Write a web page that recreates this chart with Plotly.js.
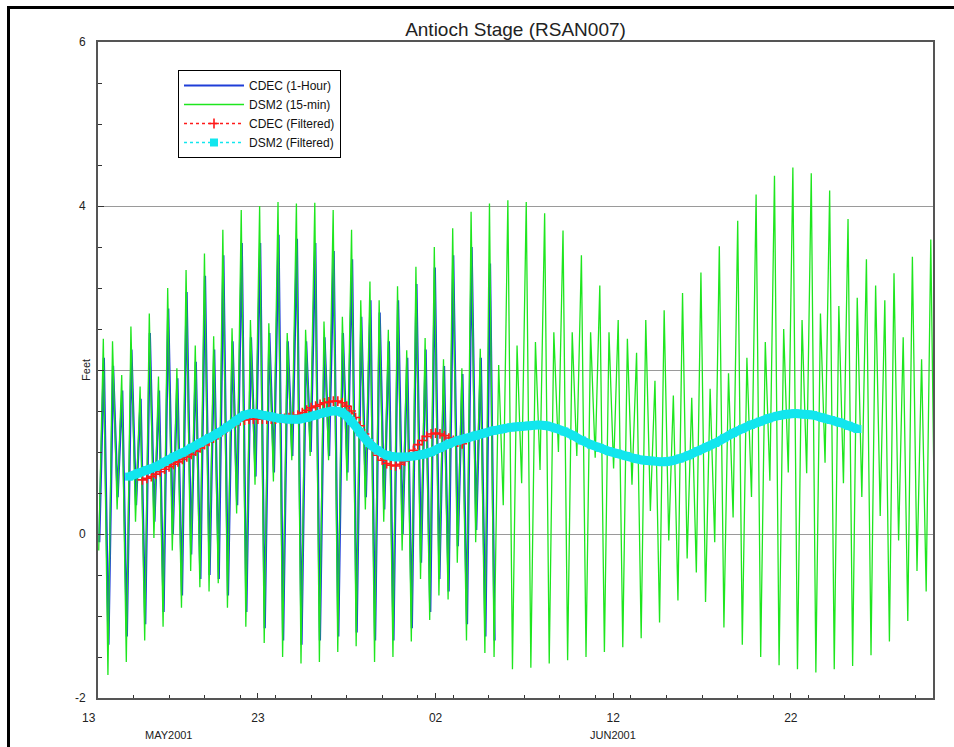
<!DOCTYPE html>
<html>
<head>
<meta charset="utf-8">
<script src="https://cdn.plot.ly/plotly-3.0.1.min.js"></script>
<style>
  html, body { margin: 0; padding: 0; background: #fff; }
  #chart { width: 954px; height: 747px; }
  #frame { position: absolute; left: 7px; top: 6px; width: 960px; height: 760px;
           border-top: 3px solid #000; border-left: 3px solid #000; pointer-events: none; }
</style>
</head>
<body>
<div id="chart"></div>
<div id="frame"></div>
<script>
// ---------------- data (feet) ----------------
// Axis / timing
const startDate = '2001-05-14';
const endDate = '2001-06-30';
const firstHighDay = 0.30;      // days after startDate of first high water
const tideStep = 0.5175;        // days between successive high waters
const cdecShift = 0.03;         // CDEC hourly lag (days)

// DSM2 (15-min): successive high waters
const dsm2Highs = [2.38,2.35,1.94,2.53,1.80,2.69,1.92,3.00,2.02,3.22,
  2.30,3.42,2.41,3.71,2.51,3.95,2.61,4.00,2.57,4.05,
  2.45,4.03,2.49,4.04,2.59,3.95,2.65,3.71,2.85,3.08,
  2.85,2.49,3.02,2.24,3.26,2.39,3.50,2.13,3.73,2.02,
  3.93,2.26,4.03,2.06,4.07,2.30,4.05,2.34,3.91,2.46,
  3.70,2.46,3.40,2.46,3.03,2.46,2.61,2.38,2.21,2.61,
  1.87,2.73,1.69,2.94,1.66,3.19,1.77,3.51,1.96,3.82,
  2.15,4.14,2.34,4.37,2.50,4.47,2.61,4.40,2.69,4.19,
  2.78,3.84,2.88,3.35,3.03,2.85,3.18,2.40,3.38,2.13,3.59];
// DSM2 (15-min): successive low waters (first one precedes first high)
const dsm2Lows = [-0.20,
  -1.72,0.30,-1.56,0.15,-1.30,-0.05,-1.13,-0.20,-0.90,-0.45,
  -0.65,-0.70,-0.60,-0.90,0.25,-1.13,0.60,-1.33,0.64,-1.50,
  0.90,-1.58,0.95,-1.56,0.90,-1.44,0.65,-1.37,0.30,-1.56,
  0.15,-1.50,-0.20,-1.31,-0.55,-1.05,-0.75,-0.80,-0.35,-1.30,
  -0.10,-1.45,-1.50,0.35,-1.65,0.62,-1.63,0.78,-1.58,1.00,
  -1.54,0.95,-1.50,0.93,-1.44,0.80,-1.38,0.60,-1.27,0.28,
  -1.08,-0.08,-0.81,-0.30,-0.47,-0.83,-0.10,-1.14,0.20,-1.35,
  0.45,-1.50,0.65,-1.60,0.75,-1.65,0.74,-1.69,0.87,-1.65,
  0.62,-1.61,0.45,-1.48,0.22,-1.31,-0.08,-1.06,-0.45,-0.70,-0.75];

// CDEC (1-Hour): successive high / low waters
const cdecHighs = [2.15,2.05,1.75,2.25,1.65,2.45,1.75,2.75,1.90,2.95,
  2.10,3.15,2.25,3.40,2.35,3.55,2.40,3.55,2.45,3.65,
  2.35,3.60,2.35,3.55,2.40,3.45,2.45,3.35,2.65,2.85,
  2.70,2.35,2.85,2.15,3.05,2.25,3.25,2.05,3.40,1.95,
  3.50,2.15,3.30];
const cdecLows = [-0.10,
  -1.35,0.45,-1.25,0.35,-1.10,0.15,-0.95,0.00,-0.75,-0.25,
  -0.55,-0.50,-0.55,-0.75,0.35,-0.95,0.70,-1.15,0.75,-1.30,
  0.95,-1.35,1.00,-1.30,0.95,-1.25,0.75,-1.20,0.45,-1.30,
  0.30,-1.30,0.00,-1.15,-0.35,-0.95,-0.55,-0.70,-0.15,-1.10,
  0.05,-1.25,-1.30];

// CDEC (Filtered): every 6 hours from day 2.5
const cdecFiltStartDay = 2.5, cdecFiltStep = 0.25;
const cdecFiltered = [0.66,0.68,0.70,0.73,0.76,0.79,0.82,0.85,0.88,0.91,
  0.94,0.97,1.01,1.05,1.09,1.13,1.17,1.21,1.25,1.29,
  1.33,1.36,1.38,1.39,1.40,1.40,1.40,1.40,1.40,1.40,
  1.40,1.41,1.41,1.42,1.43,1.45,1.48,1.51,1.54,1.56,
  1.58,1.60,1.61,1.62,1.62,1.60,1.56,1.50,1.42,1.32,
  1.22,1.13,1.04,0.96,0.90,0.86,0.84,0.83,0.85,0.89,
  0.95,1.02,1.09,1.14,1.19,1.22,1.23,1.22,1.20,1.17,
  1.14,1.12,1.10];

// DSM2 (Filtered): every 12 hours from day 1.75
const dsm2FiltStartDay = 1.75, dsm2FiltStep = 0.5;
const dsm2Filtered = [0.70,0.74,0.78,0.82,0.88,0.94,0.99,1.05,1.11,1.17,
  1.23,1.30,1.38,1.45,1.47,1.45,1.43,1.41,1.40,1.40,
  1.42,1.45,1.48,1.50,1.48,1.38,1.24,1.11,1.02,0.96,
  0.94,0.94,0.95,0.97,1.00,1.05,1.10,1.14,1.17,1.20,
  1.23,1.26,1.28,1.30,1.31,1.32,1.33,1.32,1.29,1.25,
  1.20,1.14,1.09,1.05,1.01,0.98,0.95,0.92,0.90,0.89,
  0.88,0.89,0.92,0.96,1.01,1.06,1.11,1.17,1.23,1.28,
  1.33,1.37,1.41,1.44,1.46,1.47,1.46,1.45,1.42,1.39,
  1.36,1.32,1.28];

const yTickVals = [-2, 0, 2, 4, 6];
const yTickText = ['-2', '0', '', '4', '6'];

// ---------------- build traces ----------------
const DAY = 86400000;
const t0 = Date.parse(startDate + 'T00:00:00Z');
function tideSeries(highs, lows, shift) {
  const x = [], y = [];
  for (let m = 0; m < lows.length; m++) {
    x.push(t0 + (firstHighDay - tideStep / 2 + m * tideStep + shift) * DAY);
    y.push(lows[m]);
    if (m < highs.length) {
      x.push(t0 + (firstHighDay + m * tideStep + shift) * DAY);
      y.push(highs[m]);
    }
  }
  return {x, y};
}
function regular(vals, startDay, step) {
  return vals.map((v, k) => t0 + (startDay + k * step) * DAY);
}
const cdecTide = tideSeries(cdecHighs, cdecLows, cdecShift);
const dsm2Tide = tideSeries(dsm2Highs, dsm2Lows, 0);
const dsm2FiltX = regular(dsm2Filtered, dsm2FiltStartDay, dsm2FiltStep);

const font = 'Liberation Sans, Arial, sans-serif';
const cyan = '#12e6ee';
const traces = [
  { name: 'CDEC (1-Hour)', type: 'scatter', mode: 'lines', x: cdecTide.x, y: cdecTide.y,
    line: {color: '#1f3ed8', width: 2.2} },
  { name: 'DSM2 (15-min)', type: 'scatter', mode: 'lines', x: dsm2Tide.x, y: dsm2Tide.y,
    line: {color: '#1ee61e', width: 1.3} },
  { name: 'CDEC (Filtered)', type: 'scatter', mode: 'lines+markers',
    x: regular(cdecFiltered, cdecFiltStartDay, cdecFiltStep), y: cdecFiltered,
    line: {color: '#ff1a1a', width: 1.5, dash: 'dot'},
    marker: {symbol: 'cross-thin-open', size: 7, color: '#ff1a1a', line: {color: '#ff1a1a', width: 1.6}} },
  { name: 'DSM2 (Filtered)', type: 'scatter', mode: 'lines', x: dsm2FiltX, y: dsm2Filtered,
    showlegend: false, line: {color: cyan, width: 9, shape: 'spline'} },
  { name: 'DSM2 (Filtered)', type: 'scatter', mode: 'lines+markers', x: dsm2FiltX, y: dsm2Filtered,
    line: {color: cyan, width: 1.5, dash: 'dot', shape: 'spline'},
    marker: {symbol: 'square', size: 8, color: cyan, line: {width: 0}} }
];

const layout = {
  width: 954, height: 747,
  margin: {l: 98, r: 21, t: 42, b: 49},
  paper_bgcolor: '#ffffff', plot_bgcolor: '#ffffff',
  font: {family: font, size: 12, color: '#222'},
  showlegend: true,
  title: {text: 'Antioch Stage (RSAN007)', font: {family: font, size: 19, color: '#222'},
          x: 0.5, xref: 'paper', y: 1 - 29 / 747, yref: 'container', yanchor: 'middle'},
  xaxis: {
    type: 'date', range: [startDate, endDate],
    tickmode: 'linear', tick0: '2001-05-23', dtick: 10 * DAY, tickformat: '%d',
    ticks: 'inside', ticklen: 5, tickwidth: 1, tickcolor: '#333',
    ticklabelstandoff: 8,
    minor: {tickmode: 'linear', tick0: '2001-05-16', dtick: 2 * DAY, ticks: 'inside', ticklen: 3, tickcolor: '#333', showgrid: false},
    showline: true, linecolor: '#555', linewidth: 2, mirror: true,
    showgrid: false, zeroline: false,
    tickfont: {family: font, size: 12, color: '#222'}
  },
  yaxis: {
    range: [-2, 6], tickmode: 'array', tickvals: yTickVals, ticktext: yTickText,
    ticks: 'inside', ticklen: 6, tickwidth: 1, tickcolor: '#333',
    ticklabelstandoff: 8,
    minor: {tickmode: 'linear', tick0: 0, dtick: 0.5, ticks: 'inside', ticklen: 4, tickcolor: '#333', showgrid: false},
    showline: true, linecolor: '#555', linewidth: 2, mirror: true,
    showgrid: true, gridcolor: '#9a9a9a', gridwidth: 1, zeroline: false,
    tickfont: {family: font, size: 12, color: '#222'}
  },
  legend: {
    x: (178 - 98) / 835, y: (698 - 70) / 656, xanchor: 'left', yanchor: 'top',
    bgcolor: '#ffffff', bordercolor: '#000', borderwidth: 1,
    font: {family: font, size: 12, color: '#111'}, itemwidth: 60,
    tracegroupgap: 0
  },
  annotations: [
    {text: 'Feet', xref: 'paper', yref: 'paper', x: -0.024, y: 0.5, textangle: -90,
     showarrow: false, font: {family: font, size: 11, color: '#222'}},
    {text: '13', xref: 'paper', yref: 'paper', x: -1 / 47, y: -20 / 656, yanchor: 'middle',
     showarrow: false, font: {family: font, size: 12, color: '#222'}},
    {text: 'MAY2001', xref: 'x', yref: 'paper', x: '2001-05-18', y: -37 / 656, yanchor: 'middle',
     showarrow: false, font: {family: font, size: 11, color: '#222'}},
    {text: 'JUN2001', xref: 'x', yref: 'paper', x: '2001-06-12', y: -37 / 656, yanchor: 'middle',
     showarrow: false, font: {family: font, size: 11, color: '#222'}}
  ]
};

Plotly.newPlot('chart', traces, layout, {staticPlot: true, displayModeBar: false});
</script>
</body>
</html>
